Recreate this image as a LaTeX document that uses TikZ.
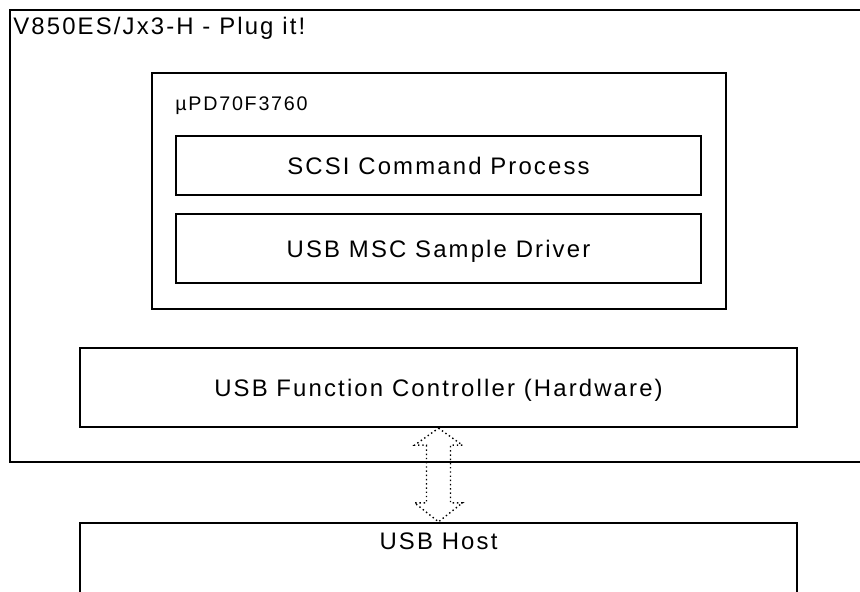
\documentclass[tikz,border=0pt]{standalone}
\usepackage{fontspec}
\setmainfont{Liberation Sans}
\newfontfamily\spaced[LetterSpace=9]{Liberation Sans}
\usetikzlibrary{fit,calc}

\begin{document}
\begin{tikzpicture}[x=0.025cm,y=-0.025cm,
  box/.style={draw,line width=1.7pt,inner sep=0pt},
  lab/.style={font=\fontsize{17}{20}\spaced,inner sep=0pt,text height=12.2pt,text depth=0pt},
  flow/.style={dotted,line width=1pt}]
\useasboundingbox (0,0) rectangle (860,591);
\clip (0,0) rectangle (860,591);

% Board frame, open past the right edge.
\node[box,fit={(10,10) (890,462)}] (board) {};
\node[lab,anchor=base west] at (13,35) {V850ES/Jx3-H - Plug it!};

% Microcontroller with its two software layers.
\node[box,fit={(152,73) (726,309)}] (chip) {};
\node[lab,font=\fontsize{14}{17}\spaced,anchor=base west] at (175,110) {µPD70F3760};
\node[box,lab,minimum width=525*0.025cm,minimum height=59*0.025cm] (scsi) at (438.5,165.5) {SCSI Command Process};
\node[box,lab,minimum width=525*0.025cm,minimum height=69*0.025cm] (msc) at (438.5,248.5) {USB MSC Sample Driver};

% Hardware block and host.
\node[box,lab,minimum width=717*0.025cm,minimum height=79*0.025cm] (fc) at (438.5,387.5) {USB Function Controller (Hardware)};
\node[box,fit={(80,523) (797,640)}] (host) {};
\node[lab,anchor=base] at ($(host.north)+(0,28)$) {USB Host};

% Hollow double arrow between controller and host.
\draw[flow] (fc.south) -- ++(24,17) -- ++(-12,0) -- ($(host.north)+(12,-19)$) -- ++(12,0)
  -- (host.north) -- ++(-24,-19) -- ++(12,0) -- ($(fc.south)+(-12,17)$) -- ++(-12,0) -- cycle;
\end{tikzpicture}
\end{document}
